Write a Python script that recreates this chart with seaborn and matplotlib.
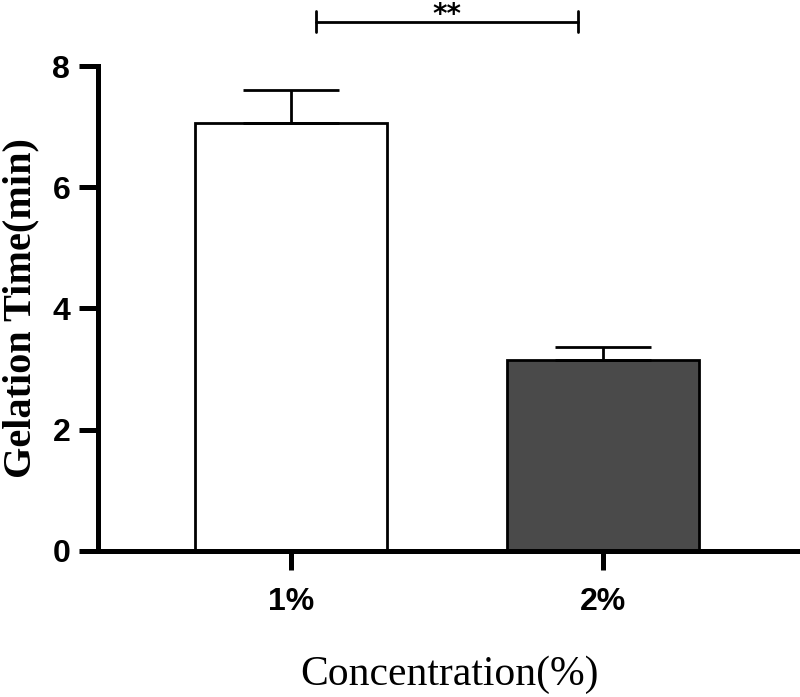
import matplotlib
matplotlib.use("Agg")
import matplotlib.pyplot as plt
import matplotlib.transforms as mtransforms
import numpy as np
import pandas as pd
import seaborn as sns

# data
concentrations = ["1%", "2%"]
gel_time = [7.06, 3.15]
gel_err = [0.55, 0.21]
bar_colors = ["#ffffff", "#4a4a4a"]
sig_label = "**"

sns.set_style("ticks", {"axes.edgecolor": "black", "xtick.color": "black",
                        "ytick.color": "black", "text.color": "black",
                        "axes.labelcolor": "black"})
plt.rcParams["font.family"] = ["Liberation Sans", "DejaVu Sans"]

df = pd.DataFrame({"conc": concentrations, "time": gel_time})

fig = plt.figure(figsize=(8, 6.97), dpi=100)
ax = fig.add_axes([0.1225, 0.2095, 0.8775, 0.6958])

sns.barplot(data=df, x="conc", y="time", hue="conc", palette=bar_colors,
            legend=False, width=0.615, edgecolor="black", linewidth=2.0,
            errorbar=None, ax=ax)

xs = np.arange(len(concentrations))
ax.errorbar(xs, gel_time, yerr=[np.zeros(len(gel_err)), gel_err], fmt="none",
            ecolor="black", elinewidth=2.0, capsize=34.5, capthick=2.0, zorder=3)

ax.set_xlim(-0.619, 1.631)
ax.set_ylim(0, 8)
ax.set_yticks([0, 2, 4, 6, 8])
sns.despine(ax=ax)
for side in ["left", "bottom"]:
    ax.spines[side].set_linewidth(3.6)
ax.tick_params(axis="both", length=14, width=3.6, pad=6, colors="black")
for lab in ax.get_xticklabels() + ax.get_yticklabels():
    lab.set_fontweight("bold")
    lab.set_fontsize(23)
ax.tick_params(axis="x", pad=12)

ax.set_ylabel("Gelation Time(min)", family="Liberation Serif", fontweight="bold",
              fontsize=29, labelpad=9)
ax.set_xlabel("Concentration(%)", family="Liberation Serif", fontsize=30, labelpad=28)

# significance bracket
y_br = 8.73
ax.plot([0.08, 0.92], [y_br, y_br], color="black", lw=2.0, clip_on=False)
for xe in [0.08, 0.92]:
    ax.plot([xe, xe], [y_br - 0.17, y_br + 0.17], color="black", lw=2.0, clip_on=False)
trans = mtransforms.blended_transform_factory(ax.transData, fig.transFigure)
ax.text(0.5, 0.999, sig_label, transform=trans, ha="center", va="top", fontsize=20,
        family="DejaVu Sans", fontweight="bold", clip_on=False)

fig.savefig("out.png", dpi=100)
